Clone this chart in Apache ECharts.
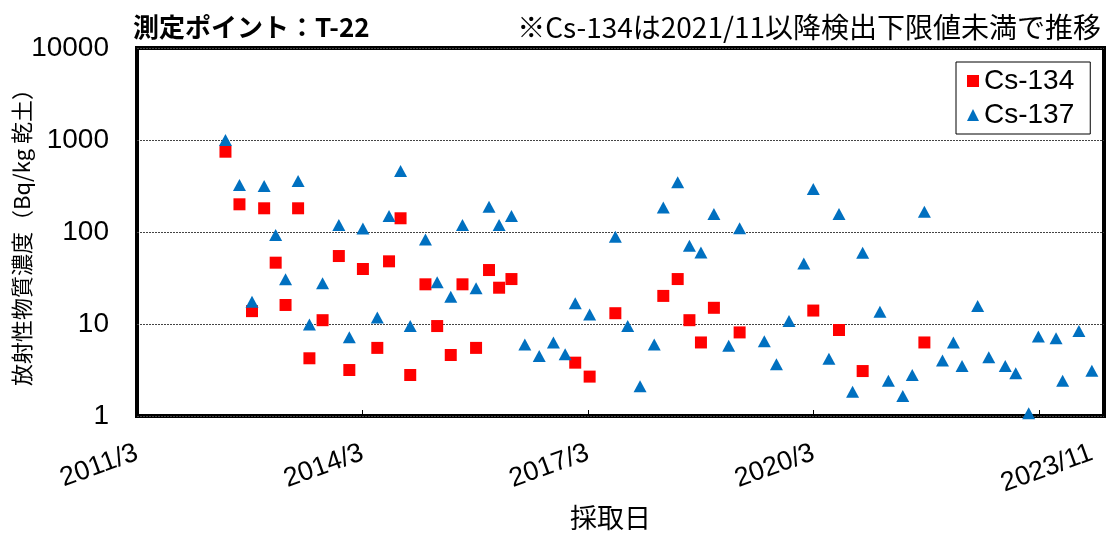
<!DOCTYPE html>
<html><head><meta charset="utf-8">
<script src="https://cdn.jsdelivr.net/npm/echarts@6/dist/echarts.min.js"></script>
<style>html,body{margin:0;padding:0;background:#fff}#c{width:1112px;height:543px}</style>
</head><body><div id="c"></div>
<script>
// ---- data ----
const dates137 = ['2012/5/4','2012/7/11','2012/9/10','2012/11/8','2013/1/3','2013/2/20','2013/4/22','2013/6/16','2013/8/19','2013/11/6','2013/12/27','2014/3/3','2014/5/12','2014/7/8','2014/9/2','2014/10/19','2015/1/1','2015/2/27','2015/5/4','2015/6/30','2015/9/4','2015/11/6','2015/12/25','2016/2/23','2016/4/28','2016/7/7','2016/9/14','2016/11/10','2016/12/29','2017/3/9','2017/7/12','2017/9/10','2017/11/9','2018/1/17','2018/3/2','2018/5/11','2018/7/7','2018/9/1','2018/11/3','2019/1/14','2019/3/8','2019/7/6','2019/9/3','2019/11/3','2020/1/14','2020/2/29','2020/5/15','2020/7/3','2020/9/7','2020/10/26','2021/1/18','2021/2/28','2021/5/9','2021/6/24','2021/8/22','2021/11/18','2022/1/10','2022/2/21','2022/5/8','2022/7/1','2022/9/19','2022/11/9','2023/1/11','2023/2/27','2023/5/24','2023/6/25','2023/9/12','2023/11/14'];
const cs137 = [1000,324,17.5,316,93,30.6,358,9.9,27.7,119,7.2,109,11.8,149,460,9.5,83,28.4,19.8,119,24.4,188,119,149,6.0,4.5,6.3,4.7,16.8,12.7,89,9.5,2.1,6.0,185,347,71,60,157,5.8,110,6.5,3.65,10.8,45.6,293,4.2,157,1.84,59.6,13.6,2.42,1.65,2.79,166,4.0,6.3,3.5,15.7,4.35,3.5,2.91,1.07,7.3,7.0,2.42,8.4,3.1];
const dates134 = ['2012/5/4','2012/7/11','2012/9/10','2012/11/8','2013/1/3','2013/2/20','2013/4/22','2013/6/16','2013/8/19','2013/11/6','2013/12/27','2014/3/3','2014/5/12','2014/7/8','2014/9/2','2014/10/19','2015/1/1','2015/2/27','2015/5/4','2015/6/30','2015/9/4','2015/11/6','2015/12/25','2016/2/23','2016/12/29','2017/3/9','2017/7/12','2018/3/2','2018/5/11','2018/7/7','2018/9/1','2018/11/3','2019/3/8','2020/2/29','2020/7/3','2020/10/26','2021/8/22'];
const cs134 = [746,200,13.8,181,46.4,16.1,181,4.24,11,54.8,3.16,39.6,5.5,48,141,2.79,27,9.5,4.6,27,5.5,38.6,24.8,30.8,3.8,2.68,13.1,20.2,30.8,11,6.3,15,8.1,14,8.6,3.08,6.3];
const seriesNames = ['Cs-134','Cs-137'];
const xLabelDates = ['2011/3/1','2014/3/1','2017/3/1','2020/3/1','2023/11/14'];
const xTickDates = ['2014/3/1','2017/3/1','2020/3/1','2023/3/1'];
const xRange = ['2011/3/1','2024/1/12'];
const yRange = [1, 10000];
const titleText = '測定ポイント：T-22';
const noteText = '※Cs-134は2021/11以降検出下限値未満で推移';
const yName = '放射性物質濃度（Bq/kg 乾土）';
const xName = '採取日';

// ---- helpers ----
function ts(s){const p=s.split('/').map(Number);return Date.UTC(p[0],p[1]-1,p[2]||1);}
function fmt(v){const d=new Date(v);return d.getUTCFullYear()+'/'+(d.getUTCMonth()+1);}
const cjk = '"Noto Sans CJK JP", "Noto Sans", sans-serif';
const lat = '"Liberation Sans", Arial, sans-serif';

const chart = echarts.init(document.getElementById('c'), null, {renderer:'canvas'});
chart.setOption({
  animation:false,
  backgroundColor:'#fff',
  title:[
    {text:titleText,left:128,top:9,textStyle:{fontSize:26,fontWeight:'bold',color:'#000',fontFamily:cjk}},
    {text:noteText,right:6,top:8,textStyle:{fontSize:28,fontWeight:'normal',color:'#000',fontFamily:cjk}}
  ],
  legend:{
    data:[{name:seriesNames[0],icon:'rect'},{name:seriesNames[1],icon:'triangle'}],
    orient:'vertical',left:956,top:62,
    itemWidth:12,itemHeight:12,itemGap:4,
    padding:[4,16,4,11],
    borderColor:'#000',borderWidth:1,backgroundColor:'#fff',
    textStyle:{fontSize:28,color:'#000',fontFamily:lat,lineHeight:30}
  },
  grid:{left:137,right:8,top:48,bottom:127,show:true,borderColor:'#000',borderWidth:4,backgroundColor:'transparent',outerBoundsMode:'none',containLabel:false},
  xAxis:{
    type:'value',min:ts(xRange[0]),max:ts(xRange[1]),
    name:xName,nameLocation:'middle',nameGap:88,nameMoveOverlap:false,
    nameTextStyle:{fontSize:27,color:'#000',fontFamily:cjk,padding:[0,20,0,0]},
    axisLine:{show:false},
    splitLine:{show:false},
    axisTick:{show:true,inside:true,length:6,lineStyle:{color:'#000',width:1},customValues:xTickDates.map(ts)},
    axisLabel:{customValues:xLabelDates.map(ts),formatter:fmt,rotate:20,margin:36,fontSize:27,color:'#000',fontFamily:lat}
  },
  yAxis:{
    type:'log',logBase:10,min:yRange[0],max:yRange[1],
    name:yName,nameLocation:'middle',nameGap:104,nameMoveOverlap:false,
    nameTextStyle:{fontSize:22,color:'#000',fontFamily:cjk},
    axisLine:{show:false},axisTick:{show:false},
    splitLine:{show:true,lineStyle:{color:'#444',type:[2,1],width:1}},
    axisLabel:{formatter:v=>String(Math.round(v)),margin:28,fontSize:28,color:'#000',fontFamily:lat}
  },
  series:[
    {name:seriesNames[0],type:'scatter',symbol:'rect',symbolSize:12,itemStyle:{color:'#FF0000',opacity:1},
     data:dates134.map((d,i)=>[ts(d),cs134[i]])},
    {name:seriesNames[1],type:'scatter',symbol:'triangle',symbolSize:[13,12],itemStyle:{color:'#0070C0',opacity:1},
     data:dates137.map((d,i)=>[ts(d),cs137[i]])}
  ]
});
</script></body></html>
